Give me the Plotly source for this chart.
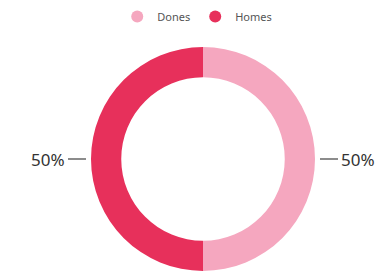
import plotly.graph_objects as go

labels = ["Dones", "Homes"]
values = [50, 50]
colors = ["#F5A7BF", "#E7305B"]

W, H = 383, 271
cx, cy, r = 203, 159, 112

fig = go.Figure()
fig.add_trace(go.Pie(
    labels=labels, values=values, hole=0.73, sort=False, direction="clockwise", rotation=0,
    marker=dict(colors=colors, line=dict(width=0)),
    textinfo="none", hoverinfo="label+percent", showlegend=False,
    domain=dict(x=[(cx - r) / W, (cx + r) / W], y=[max(0, 1 - (cy + r) / H), 1 - (cy - r) / H]),
))
for lab, col in zip(labels, colors):
    fig.add_trace(go.Scatter(x=[None], y=[None], mode="markers", name=lab,
                             marker=dict(symbol="circle", size=12, color=col)))

total = sum(values)
pcts = [f"{round(v / total * 100)}%" for v in values]
lbl_font = dict(size=17, color="#333333", family="Noto Sans")
fig.add_annotation(x=(cx + r + 24) / W, y=1 - cy / H, xref="paper", yref="paper",
                   text=pcts[0], showarrow=False, xanchor="left", font=lbl_font)
fig.add_annotation(x=(cx - r - 24) / W, y=1 - cy / H, xref="paper", yref="paper",
                   text=pcts[1], showarrow=False, xanchor="right", font=lbl_font)
fig.add_shape(type="line", xref="paper", yref="paper",
              x0=(cx + r + 5) / W, x1=(cx + r + 23) / W, y0=1 - cy / H, y1=1 - cy / H,
              line=dict(color="#666666", width=1.5))
fig.add_shape(type="line", xref="paper", yref="paper",
              x0=(cx - r - 23) / W, x1=(cx - r - 5) / W, y0=1 - cy / H, y1=1 - cy / H,
              line=dict(color="#666666", width=1.5))

fig.update_layout(
    width=W, height=H, margin=dict(l=0, r=0, t=0, b=0),
    paper_bgcolor="white", plot_bgcolor="white",
    xaxis=dict(visible=False), yaxis=dict(visible=False),
    legend=dict(orientation="h", x=0.515, xanchor="center", y=1 - 2 / H, yanchor="top",
                font=dict(size=11, color="#555555", family="Noto Sans"),
                itemwidth=30, tracegroupgap=0),
)
fig.write_html("out.html", config={"displayModeBar": False},
               post_script="document.body.style.margin='0';document.body.style.overflow='hidden';")
